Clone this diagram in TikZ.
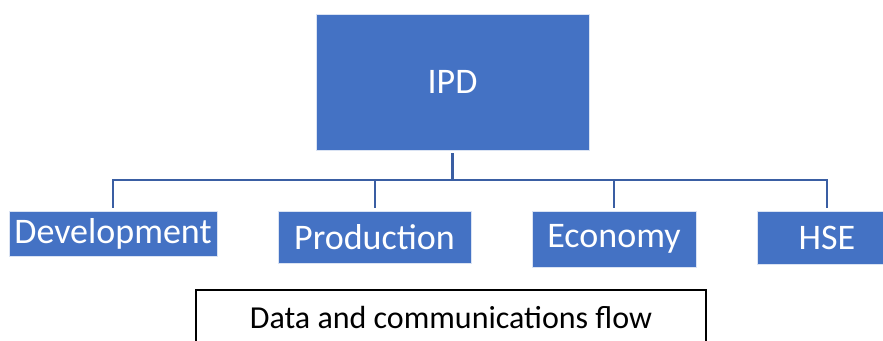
\documentclass[tikz,border=0pt]{standalone}
\usepackage{fontspec}
\setmainfont{Carlito}
\definecolor{boxblue}{HTML}{4472C4}
\definecolor{linkblue}{HTML}{3A5EA3}
\begin{document}
\begin{tikzpicture}[x=1pt,y=1pt,
  unit/.style={fill=boxblue, draw=white!80!boxblue, line width=0.8pt, text=white,
    inner sep=0pt, font=\fontsize{36}{40}\selectfont},
  link/.style={draw=linkblue, line width=2pt, shorten >=3pt}]
\useasboundingbox (0,0) rectangle (883,340);
\begin{scope}
\clip (0,0) rectangle (883,340);
% top unit
\node[unit, minimum width=273, minimum height=136] (ipd) at (452.5,258) {IPD};
% departments
\node[unit, minimum width=208, minimum height=45] (dev) at (113,106.5) {Development};
\node[unit, minimum width=193, minimum height=52] (prod) at (374.5,103) {Production};
\node[unit, minimum width=164, minimum height=56] (eco) at (614,101) {Economy};
\node[unit, minimum width=140, minimum height=53] (hse) at (827,102.5) {HSE};
% information flow box (runs past the lower edge)
\node[draw=black, line width=2pt, minimum width=510, minimum height=90, anchor=north]
  (flow) at (451,51) {};
\node[anchor=base, inner sep=0pt, font=\fontsize{32}{36}\selectfont]
  (flowtext) at (451,12) {Data and communications flow};
% tree connectors
\coordinate (bar) at (452.5,160);
\draw[draw=linkblue, line width=3pt] ([yshift=-3pt]ipd.south) -- (bar);
\draw[link] (bar) -| (dev.north);
\draw[link] (bar) -| (prod.north);
\draw[link] (bar) -| (eco.north);
\draw[link] (bar) -| (hse.north);
\end{scope}
\end{tikzpicture}
\end{document}
